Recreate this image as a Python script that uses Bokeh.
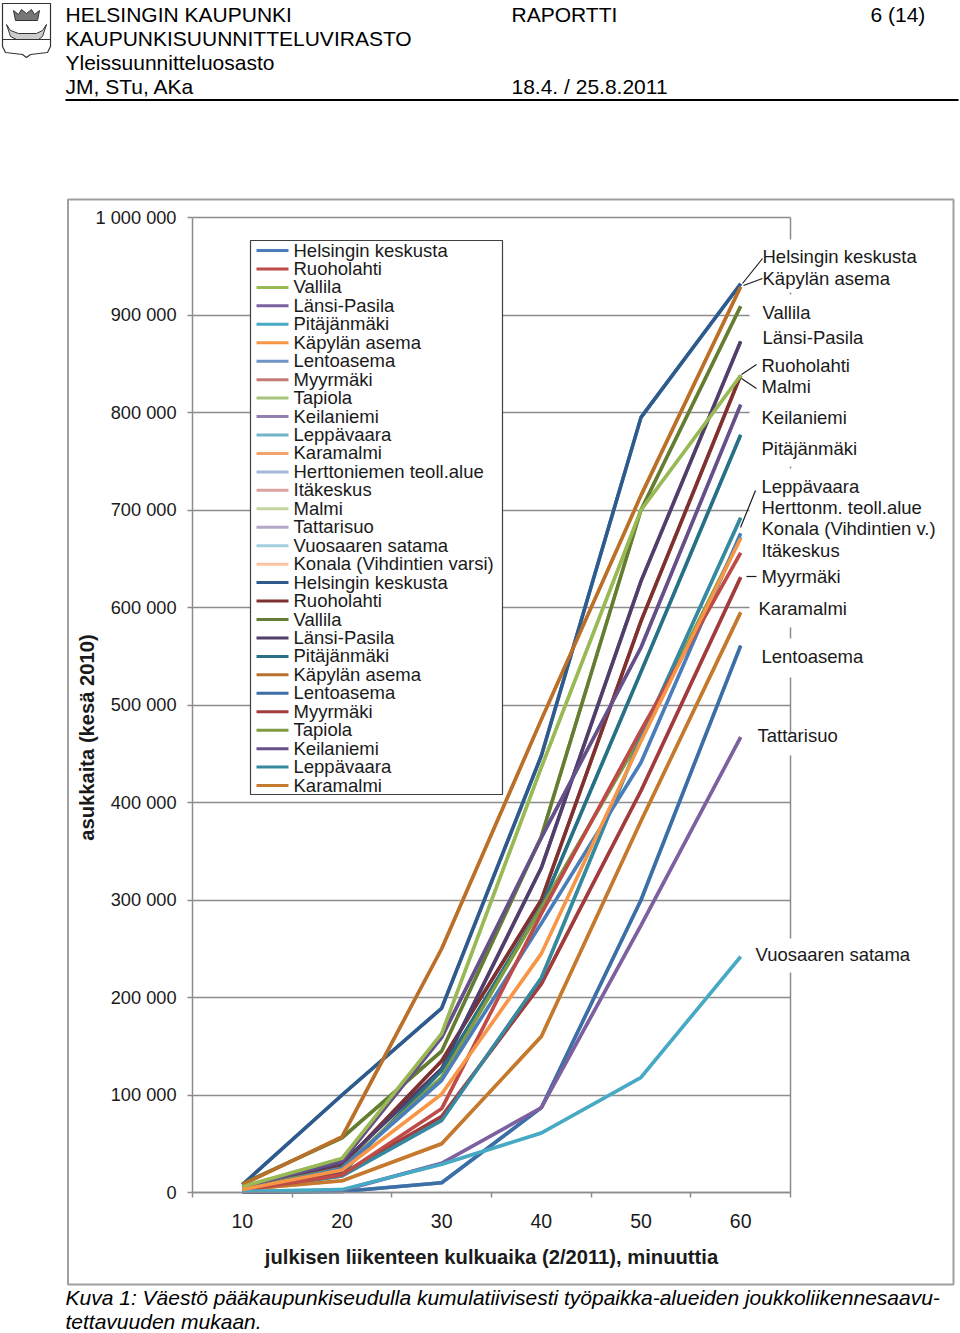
from bokeh.plotting import figure
from bokeh.embed import file_html
from bokeh.resources import INLINE
from bokeh.models import (FixedTicker, Label, BoxAnnotation, PolyAnnotation, Range1d)

# ---------- data ----------
minutes = [10, 20, 30, 40, 50, 60]
helsinki = [8000, 100000, 189000, 448000, 795000, 932000]
ruoholahti = [3000, 28000, 135000, 300000, 586000, 838000]
vallila = [9000, 56000, 145000, 365000, 700000, 909000]
lansi_pasila = [4000, 30000, 127000, 333000, 627000, 873000]
pitajanmaki = [3000, 20000, 125000, 293000, 534000, 777000]
kapyla = [8000, 57000, 250000, 485000, 715000, 929000]
lentoasema = [200, 1000, 10000, 87000, 300000, 561000]
myyrmaki = [2000, 19000, 78000, 214000, 412000, 631000]
tapiola = [4000, 25000, 118000, 292000, 468000, 672000]
keilaniemi = [5000, 32000, 159000, 364000, 559000, 808000]
leppavaara = [2000, 17000, 74000, 220000, 467000, 692000]
karamalmi = [3000, 12000, 50000, 160000, 381000, 595000]
herttoniemi = [2000, 25000, 115000, 276000, 441000, 676000]
itakeskus = [2000, 18000, 86000, 286000, 474000, 656000]
malmi = [6000, 35000, 163000, 436000, 700000, 838000]
tattarisuo = [500, 2000, 30000, 87000, 274000, 467000]
vuosaari = [1000, 3000, 29000, 61000, 118000, 242000]
konala = [3000, 23000, 101000, 245000, 463000, 671000]

names = ["Helsingin keskusta", "Ruoholahti", "Vallila", "Länsi-Pasila", "Pitäjänmäki", "Käpylän asema",
         "Lentoasema", "Myyrmäki", "Tapiola", "Keilaniemi", "Leppävaara", "Karamalmi",
         "Herttoniemen teoll.alue", "Itäkeskus", "Malmi", "Tattarisuo", "Vuosaaren satama",
         "Konala (Vihdintien varsi)"]
series = [helsinki, ruoholahti, vallila, lansi_pasila, pitajanmaki, kapyla,
          lentoasema, myyrmaki, tapiola, keilaniemi, leppavaara, karamalmi,
          herttoniemi, itakeskus, malmi, tattarisuo, vuosaari, konala]
colors_first = ["#4A7EBB", "#BE4B48", "#98B954", "#7D60A0", "#46AAC5", "#F79646",
                "#7095C4", "#C47B79", "#A6C57A", "#9480AE", "#71B4CB", "#F2A26C",
                "#A5BADB", "#DAA3A2", "#C3D59F", "#B5A7C8", "#A5CEDF", "#F9C4A0"]
colors_second = ["#2F5A8C", "#7E3230", "#657C35", "#523F69", "#2A7085", "#B8702B",
                 "#3C6FA6", "#A23B3C", "#7F9C42", "#66508A", "#36899F", "#C47A2E",
                 "#4A7EBB", "#BE4B48", "#98B954", "#7D60A0", "#46AAC5", "#F79646"]
legend_count = 30
y_ticks = [0, 100000, 200000, 300000, 400000, 500000, 600000, 700000, 800000, 900000, 1000000]
y_labels = ["0", "100 000", "200 000", "300 000", "400 000", "500 000", "600 000", "700 000",
            "800 000", "900 000", "1 000 000"]

FONT = "Liberation Sans"
GRID = "#8c8c8c"

# ---------- page geometry: the frame fills the canvas, the axes are fixed inside it ----------
L, R, T, B = 192, 790, 217, 1192
W, H = 960, 1333
def X(px):
    return 5 + (px - L) * 60 / (R - L)
def Y(py):
    return (B - py) * 1000000 / (B - T)

p = figure(width=W, height=H, output_backend="svg", toolbar_location=None,
           x_range=Range1d(X(0), X(W)), y_range=Range1d(Y(H), Y(0)),
           min_border=0, background_fill_color="white", border_fill_color="white")
p.outline_line_color = None

p.xgrid.visible = False
p.ygrid.grid_line_color = GRID
p.ygrid.grid_line_width = 1.5
p.ygrid.ticker = FixedTicker(ticks=y_ticks)
p.ygrid.cross_bounds = (5, 65)

yaxis = p.yaxis[0]
yaxis.fixed_location = 5
yaxis.bounds = (0, 1000000)
yaxis.ticker = FixedTicker(ticks=y_ticks)
yaxis.major_label_overrides = {t: s for t, s in zip(y_ticks, y_labels)}
yaxis.axis_line_color = GRID
yaxis.axis_line_width = 1.5
yaxis.major_tick_line_color = GRID
yaxis.major_tick_line_width = 1.5
yaxis.major_tick_in = 0
yaxis.major_tick_out = 5
yaxis.minor_tick_line_color = None
yaxis.major_label_standoff = 11
yaxis.major_label_text_font = FONT
yaxis.major_label_text_font_size = "18.2px"
yaxis.major_label_text_color = "#1a1a1a"

xaxis = p.xaxis[0]
xaxis.fixed_location = 0
xaxis.bounds = (5, 65)
xaxis.ticker = FixedTicker(ticks=minutes, minor_ticks=[5, 15, 25, 35, 45, 55, 65])
xaxis.axis_line_color = GRID
xaxis.axis_line_width = 1.5
xaxis.major_tick_line_color = None
xaxis.major_tick_in = 0
xaxis.major_tick_out = 0
xaxis.minor_tick_line_color = GRID
xaxis.minor_tick_line_width = 1.5
xaxis.minor_tick_in = 0
xaxis.minor_tick_out = 5
xaxis.major_label_standoff = 16
xaxis.major_label_text_font = FONT
xaxis.major_label_text_font_size = "19.5px"
xaxis.major_label_text_color = "#1a1a1a"
xaxis.axis_label = "julkisen liikenteen kulkuaika (2/2011), minuuttia"
xaxis.axis_label_text_font = FONT
xaxis.axis_label_text_font_size = "20.2px"
xaxis.axis_label_text_font_style = "bold"
xaxis.axis_label_text_color = "#1a1a1a"
xaxis.axis_label_standoff = 15

# right edge of the plot area
p.segment([65], [0], [65], [1000000], line_color=GRID, line_width=1.5)

# white areas behind the end labels
for top, bot in [(239, 292), (294, 466), (468, 627), (638, 677), (733, 755), (938, 972)]:
    p.add_layout(BoxAnnotation(left=X(749), right=X(930), top=Y(top), bottom=Y(bot),
                               fill_color="white", fill_alpha=1, line_color=None))

# series: the first 18 and their overdrawn repeats
for vals, col in zip(series, colors_first):
    p.line(minutes, vals, line_color=col, line_width=3.5)
for vals, col in zip(series, colors_second):
    p.line(minutes, vals, line_color=col, line_width=3.5)

def text(px, py, s, size=18.5, style="normal", angle=0, align="left", color="#1a1a1a"):
    # py (or px when rotated) is the baseline in page pixels
    off = 0.36 * size
    x = px - off if angle else px
    y = py if angle else py - off
    p.add_layout(Label(x=X(x), y=Y(y), text=s, text_font=FONT, text_font_size=f"{size}px",
                       text_font_style=style, text_color=color, angle=angle, angle_units="deg",
                       text_align=align, text_baseline="alphabetic"))

# legend: 30 rows, as tight as the original's
p.add_layout(BoxAnnotation(left=X(250), right=X(502), top=Y(240), bottom=Y(794),
                           fill_color="white", fill_alpha=1, line_color="#404040",
                           line_alpha=1, line_width=1.2))
legend_names = (names + names)[:legend_count]
legend_colors = (colors_first + colors_second)[:legend_count]
row_y = [250 + i * 18.45 for i in range(legend_count)]
p.segment([X(256)] * legend_count, [Y(v) for v in row_y], [X(288)] * legend_count, [Y(v) for v in row_y],
          line_color=legend_colors, line_width=3, level="overlay")
for s, v in zip(legend_names, row_y):
    text(293, v + 6.2, s)

# leader lines
leaders_x0 = [742, 743, 741, 741, 740, 746]
leaders_y0 = [283, 285, 374, 378, 527, 576]
leaders_x1 = [762, 762, 756, 756, 755, 756]
leaders_y1 = [258, 278, 364, 388, 490, 576]
p.segment([X(v) for v in leaders_x0], [Y(v) for v in leaders_y0],
          [X(v) for v in leaders_x1], [Y(v) for v in leaders_y1],
          line_color="#1a1a1a", line_width=1.2, level="overlay")

end_labels = [("Helsingin keskusta", 762, 263), ("Käpylän asema", 762, 285), ("Vallila", 762, 319),
              ("Länsi-Pasila", 762, 344), ("Ruoholahti", 761, 372), ("Malmi", 761, 393),
              ("Keilaniemi", 761, 424), ("Pitäjänmäki", 761, 455), ("Leppävaara", 761, 493),
              ("Herttonm. teoll.alue", 761, 514), ("Konala (Vihdintien v.)", 761, 535),
              ("Itäkeskus", 761, 557), ("Myyrmäki", 761, 583), ("Karamalmi", 758, 615),
              ("Lentoasema", 761, 663), ("Tattarisuo", 757, 742), ("Vuosaaren satama", 755, 961)]
for s, px, py in end_labels:
    text(px, py, s)

text(94, 737, "asukkaita (kesä 2010)", size=20.2, style="bold", angle=90, align="center")

# header
HS = 21
text(65, 22, "HELSINGIN KAUPUNKI", HS, color="black")
text(65, 46, "KAUPUNKISUUNNITTELUVIRASTO", HS, color="black")
text(65, 70, "Yleissuunnitteluosasto", HS, color="black")
text(65, 94, "JM, STu, AKa", HS, color="black")
text(511, 22, "RAPORTTI", HS, color="black")
text(870, 22, "6 (14)", HS, color="black")
text(511, 94, "18.4. / 25.8.2011", HS, color="black")
p.add_layout(BoxAnnotation(left=X(65), right=X(958), top=Y(98.5), bottom=Y(100.5),
                           fill_color="black", fill_alpha=1, line_color=None))

# caption
text(65, 1305, "Kuva 1: Väestö pääkaupunkiseudulla kumulatiivisesti työpaikka-alueiden joukkoliikennesaavu-",
     21, "italic", color="black")
text(65, 1329, "tettavuuden mukaan.", 21, "italic", color="black")

# chart frame
p.add_layout(BoxAnnotation(left=X(67.5), right=X(953), top=Y(199), bottom=Y(1284),
                           fill_color=None, line_color="#a0a0a0", line_alpha=1, line_width=2,
                           level="underlay"))

# crest
def poly(xs, ys, fill, line="#333333", lw=1.2):
    p.add_layout(PolyAnnotation(xs=[X(v) for v in xs], ys=[Y(v) for v in ys], fill_color=fill,
                                fill_alpha=1 if fill else 0, line_color=line, line_alpha=1, line_width=lw))
poly([2, 50, 50, 47, 30, 26, 22, 5, 2], [3, 3, 46, 52, 54, 57, 54, 52, 46], None)
poly([6, 10, 18, 36, 42, 46, 42, 38, 16, 10], [24, 30, 33, 33, 30, 24, 36, 39, 39, 36], "#cccccc", lw=1)
poly([13, 18, 21, 26, 31, 34, 39, 37, 15], [10, 14, 9, 13, 9, 14, 10, 20, 20], "#777777", lw=1)
poly([2, 50], [39, 39], None, lw=1)

open("out.html", "w").write(file_html(p, INLINE))
